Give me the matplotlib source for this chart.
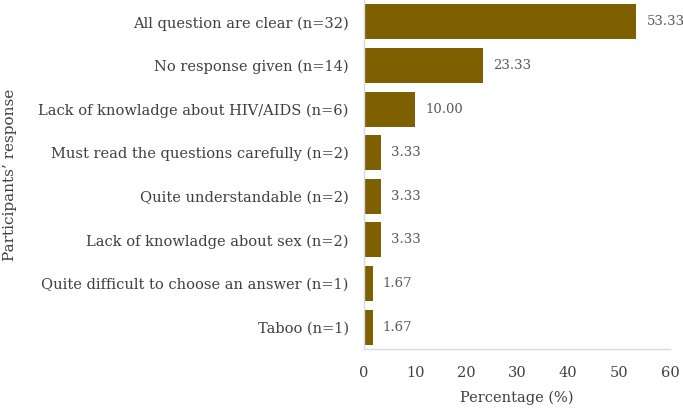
import matplotlib
matplotlib.use("Agg")
import matplotlib.pyplot as plt

# data (top to bottom)
categories = [
    "All question are clear (n=32)",
    "No response given (n=14)",
    "Lack of knowladge about HIV/AIDS (n=6)",
    "Must read the questions carefully (n=2)",
    "Quite understandable (n=2)",
    "Lack of knowladge about sex (n=2)",
    "Quite difficult to choose an answer (n=1)",
    "Taboo (n=1)",
]
percentages = [53.33, 23.33, 10.00, 3.33, 3.33, 3.33, 1.67, 1.67]
x_ticks = [0, 10, 20, 30, 40, 50, 60]

plt.rcParams['font.family'] = ['DejaVu Serif']
text_col = '#404040'
bar_col = '#7F6000'

fig = plt.figure(figsize=(6.83, 4.08), dpi=100)
ax = fig.add_axes([364 / 683, 1 - 349 / 408, (670 - 364) / 683, 349 / 408])

ypos = list(range(len(categories)))
ax.barh(ypos, percentages, height=0.8, color=bar_col)
ax.set_ylim(len(categories) - 0.5, -0.5)
ax.set_xlim(0, 60)

for y, v in zip(ypos, percentages):
    ax.annotate(f"{v:.2f}", (v, y), xytext=(7.5, 0), textcoords='offset points',
                va='center', ha='left', fontsize=9.5, color='#595959')

ax.set_yticks(ypos)
ax.set_yticklabels(categories, fontsize=10.5, color=text_col)
ax.set_xticks(x_ticks)
ax.set_xticklabels([str(t) for t in x_ticks], fontsize=10.5, color=text_col)
ax.tick_params(axis='both', length=0)
ax.tick_params(axis='y', pad=11)
ax.tick_params(axis='x', pad=12)

for s in ['top', 'right']:
    ax.spines[s].set_visible(False)
for s in ['left', 'bottom']:
    ax.spines[s].set_color('#d9d9d9')
    ax.spines[s].set_linewidth(1)

ax.set_xlabel("Percentage (%)", fontsize=10.5, color=text_col, labelpad=8)
fig.text(10 / 683, 1 - 175 / 408, "Participants’ response", rotation=90,
         ha='center', va='center', fontsize=11, color=text_col)

fig.savefig("out.png", dpi=100)
